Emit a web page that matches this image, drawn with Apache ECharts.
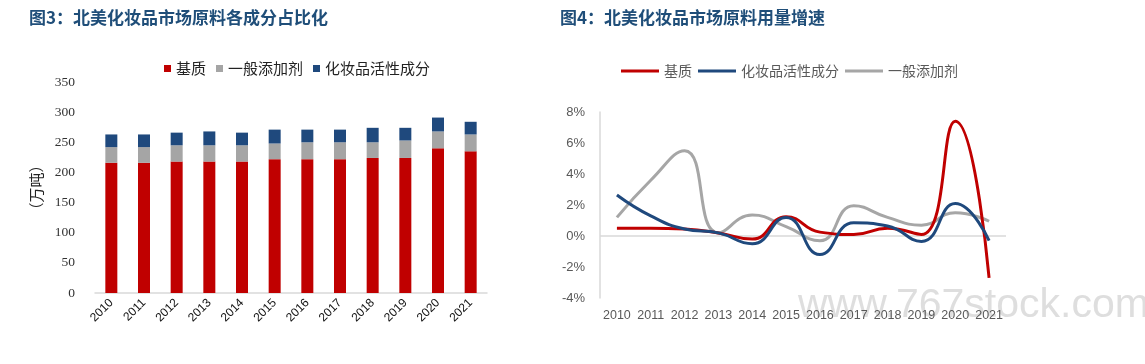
<!DOCTYPE html>
<html>
<head>
<meta charset="utf-8">
<script src="https://cdn.jsdelivr.net/npm/echarts@6/dist/echarts.min.js"></script>
<style>
html,body{margin:0;padding:0;background:#fff;}
#c{width:1145px;height:364px;}
</style>
</head>
<body>
<div id="c"></div>
<script>
// ---- data ----
const years = ['2010','2011','2012','2013','2014','2015','2016','2017','2018','2019','2020','2021'];
// Figure 3: composition (10k tons)
const baseMatrix = [216,216,218,218,218,222,222,222,224,224,240,235];
const additives  = [26,26,27,27,27,26,28,28,26,29,28,28];
const actives    = [21,21,21,23,21,23,21,21,24,21,23,21];
const leftTicks = [0,50,100,150,200,250,300,350];
// Figure 4: growth rate (%)
const growthBase     = [0.5,0.5,0.45,0.2,-0.2,1.25,0.25,0.1,0.5,0.1,7.4,-2.7];
const growthActive   = [2.65,1.3,0.45,0.2,-0.5,1.2,-1.2,0.85,0.65,-0.35,2.1,-0.3];
const growthAdditive = [1.2,3.6,5.5,0.2,1.35,0.6,-0.3,1.95,1.2,0.7,1.5,0.95];
const rightTicks = [-4,-2,0,2,4,6,8];

const RED = '#C00000', GRAY = '#A5A5A5', BLUE = '#1F497D', TITLE = '#1F4E79';
const cjk = '"Noto Sans CJK SC", sans-serif';

const chart = echarts.init(document.getElementById('c'), null, {renderer:'canvas'});
chart.setOption({
  animation: false,
  backgroundColor: '#fff',
  title: [
    {text:'图3：北美化妆品市场原料各成分占比化', left:24, top:4,
     textStyle:{fontFamily:cjk, fontSize:17, fontWeight:'bold', color:TITLE}},
    {text:'图4：北美化妆品市场原料用量增速', left:555, top:4,
     textStyle:{fontFamily:cjk, fontSize:17, fontWeight:'bold', color:TITLE}}
  ],
  graphic: [
    {type:'text', left:798, top:285, z:-1, silent:true,
     style:{text:'www.767stock.com', fontFamily:'Arial, "Liberation Sans"', fontSize:41, fill:'rgba(200,200,200,0.6)'}}
  ],
  legend: [
    {data:['基质','一般添加剂','化妆品活性成分'], left:159, top:56, itemWidth:7, itemHeight:7, itemGap:10,
     icon:'rect', textStyle:{fontFamily:cjk, fontSize:15, color:'#222'}},
    {data:['基质 ','化妆品活性成分 ','一般添加剂 '], left:616, top:59, itemWidth:38, itemHeight:3, itemGap:6,
     icon:'rect', textStyle:{fontFamily:cjk, fontSize:14, color:'#595959'},
     formatter: n => n.trim()}
  ],
  grid: [
    {left:95, right:658, top:82, bottom:71},
    {left:600, right:139, top:112, bottom:66}
  ],
  xAxis: [
    {type:'category', gridIndex:0, data:years, boundaryGap:true,
     axisLine:{show:true, lineStyle:{color:'#d9d9d9', width:1.5}},
     axisTick:{show:false},
     axisLabel:{interval:0, rotate:45, fontFamily:'Arial, "Liberation Sans"', fontSize:12, color:'#111', margin:8}},
    {type:'category', gridIndex:1, data:years, boundaryGap:true,
     axisLine:{show:false}, axisTick:{show:false},
     axisLabel:{interval:0, fontFamily:'Arial, "Liberation Sans"', fontSize:12.5, color:'#595959', margin:11}}
  ],
  yAxis: [
    {type:'value', gridIndex:0, min:leftTicks[0], max:leftTicks[leftTicks.length-1], interval:50,
     name:'（万吨）', nameLocation:'middle', nameRotate:90, nameGap:51,
     nameTextStyle:{fontFamily:cjk, fontSize:15, color:'#222'},
     axisLine:{show:false}, axisTick:{show:false}, splitLine:{show:false},
     axisLabel:{fontFamily:'"Liberation Serif", serif', fontSize:13.5, color:'#333', margin:20}},
    {type:'value', gridIndex:1, min:rightTicks[0], max:rightTicks[rightTicks.length-1], interval:2,
     axisLine:{show:true, lineStyle:{color:'#d9d9d9', width:1.5}}, axisTick:{show:false}, splitLine:{show:false},
     axisLabel:{fontFamily:'Arial, "Liberation Sans"', fontSize:13, color:'#595959', margin:15,
       formatter: v => v + '%'}}
  ],
  series: [
    {name:'基质', type:'bar', stack:'a', xAxisIndex:0, yAxisIndex:0, data:baseMatrix, barWidth:12, itemStyle:{color:RED}},
    {name:'一般添加剂', type:'bar', stack:'a', xAxisIndex:0, yAxisIndex:0, data:additives, barWidth:12, itemStyle:{color:GRAY}},
    {name:'化妆品活性成分', type:'bar', stack:'a', xAxisIndex:0, yAxisIndex:0, data:actives, barWidth:12, itemStyle:{color:BLUE}},
    {name:'基质 ', type:'line', xAxisIndex:1, yAxisIndex:1, data:growthBase, smooth:0.5, symbol:'none',
     lineStyle:{color:RED, width:3}, itemStyle:{color:RED}, z:3,
     markLine:{silent:true, symbol:'none', label:{show:false}, lineStyle:{color:'#d9d9d9', width:1.5, type:'solid'},
       data:[{yAxis:0}], z:1}},
    {name:'化妆品活性成分 ', type:'line', xAxisIndex:1, yAxisIndex:1, data:growthActive, smooth:0.5, symbol:'none',
     lineStyle:{color:BLUE, width:3}, itemStyle:{color:BLUE}, z:4},
    {name:'一般添加剂 ', type:'line', xAxisIndex:1, yAxisIndex:1, data:growthAdditive, smooth:0.5, symbol:'none',
     lineStyle:{color:'#A6A6A6', width:3}, itemStyle:{color:'#A6A6A6'}, z:2}
  ]
});
</script>
</body>
</html>
